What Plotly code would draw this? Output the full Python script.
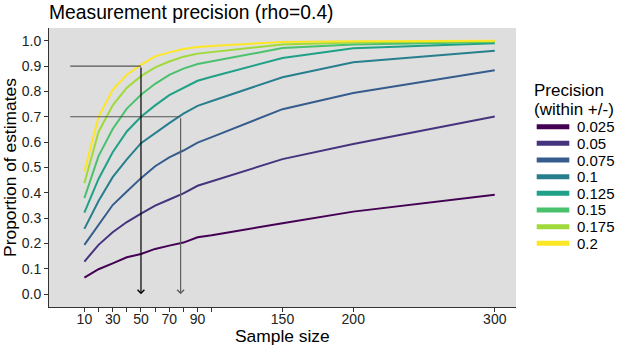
import plotly.graph_objects as go

# ---------------- data ----------------
sample_size = [10, 20, 30, 40, 50, 60, 70, 80, 90, 100, 150, 200, 300]
precision_labels = ["0.025", "0.05", "0.075", "0.1", "0.125", "0.15", "0.175", "0.2"]
colors = ["#440154", "#46337E", "#365C8D", "#277F8E", "#1FA187", "#4AC16D", "#9FDA3A", "#FDE725"]

p_0025 = [0.066, 0.099, 0.122, 0.146, 0.159, 0.179, 0.192, 0.204, 0.225, 0.233, 0.280, 0.326, 0.393]
p_0050 = [0.129, 0.195, 0.245, 0.285, 0.318, 0.350, 0.374, 0.398, 0.428, 0.445, 0.533, 0.593, 0.701]
p_0075 = [0.195, 0.276, 0.352, 0.405, 0.458, 0.505, 0.540, 0.567, 0.598, 0.620, 0.730, 0.794, 0.883]
p_0100 = [0.258, 0.368, 0.462, 0.532, 0.596, 0.637, 0.675, 0.712, 0.743, 0.762, 0.856, 0.915, 0.960]
p_0125 = [0.322, 0.455, 0.560, 0.642, 0.700, 0.745, 0.785, 0.815, 0.842, 0.858, 0.932, 0.970, 0.990]
p_0150 = [0.379, 0.545, 0.652, 0.732, 0.787, 0.830, 0.865, 0.890, 0.908, 0.918, 0.971, 0.985, 0.995]
p_0175 = [0.438, 0.640, 0.745, 0.815, 0.860, 0.895, 0.918, 0.937, 0.949, 0.955, 0.985, 0.993, 0.998]
p_0200 = [0.484, 0.700, 0.806, 0.866, 0.905, 0.938, 0.954, 0.967, 0.975, 0.979, 0.995, 0.998, 1.000]
series = [p_0025, p_0050, p_0075, p_0100, p_0125, p_0150, p_0175, p_0200]

x_tickvals = [10, 20, 30, 40, 50, 60, 70, 80, 90, 100, 150, 200, 300]
x_ticktext = ["10", "", "30", "", "50", "", "70", "", "90", "", "150", "200", "300"]
y_tickvals = [0.0, 0.1, 0.2, 0.3, 0.4, 0.5, 0.6, 0.7, 0.8, 0.9, 1.0]

target_prop = [0.9, 0.7]
required_n = [50, 78]
arrow_colors = ["#000000", "#5f5f5f"]

# ---------------- layout geometry ----------------
W, H = 625, 347
L, R, T, B = 49, 109, 28, 40
PW, PH = W - L - R, H - T - B
FONT = "Liberation Sans, Arial, Helvetica, sans-serif"


def px_x(px):
    return (px - L) / PW


def px_y(py):
    return (H - B - py) / PH


fig = go.Figure()
for lab, col, ys in zip(precision_labels, colors, series):
    fig.add_trace(go.Scatter(x=sample_size, y=ys, mode="lines", name=lab,
                             line=dict(color=col, width=2), showlegend=False))

shapes = []
annotations = []
# reference guides
for yv, xv, ac in zip(target_prop, required_n, arrow_colors):
    shapes.append(dict(type="line", xref="x", yref="y", x0=0, x1=xv, y0=yv, y1=yv,
                       line=dict(color="#555555", width=1.2)))
    annotations.append(dict(x=xv, y=0, ax=xv, ay=yv, xref="x", yref="y", axref="x", ayref="y",
                            text="", showarrow=True, arrowhead=4, arrowsize=1.1,
                            arrowwidth=1.2, arrowcolor=ac, standoff=0))

# x axis title
annotations.append(dict(x=0.5, y=px_y(335.5), xref="paper", yref="paper", text="Sample size",
                        showarrow=False, xanchor="center", yanchor="middle",
                        font=dict(family=FONT, size=17.4, color="#000")))

# manual legend
annotations.append(dict(x=px_x(532), y=px_y(90.2), xref="paper", yref="paper", text="Precision",
                        showarrow=False, xanchor="left", yanchor="middle",
                        font=dict(family=FONT, size=17, color="#000")))
annotations.append(dict(x=px_x(532), y=px_y(109.7), xref="paper", yref="paper", text="(within +/-)",
                        showarrow=False, xanchor="left", yanchor="middle",
                        font=dict(family=FONT, size=17, color="#000")))
for i, (lab, col) in enumerate(zip(precision_labels, colors)):
    yc = 126.7 + 16.66 * i
    shapes.append(dict(type="line", xref="paper", yref="paper", x0=px_x(536.7), x1=px_x(569.3),
                       y0=px_y(yc), y1=px_y(yc), line=dict(color=col, width=5)))
    annotations.append(dict(x=px_x(575), y=px_y(yc), xref="paper", yref="paper", text=lab,
                            showarrow=False, xanchor="left", yanchor="middle",
                            font=dict(family=FONT, size=15, color="#000")))

fig.update_layout(
    width=W, height=H,
    margin=dict(l=L, r=R, t=T, b=B, autoexpand=False),
    paper_bgcolor="white", plot_bgcolor="#DEDEDE",
    font=dict(family=FONT, color="#000"),
    title=dict(text="Measurement precision (rho=0.4)", x=L / W, xref="container", xanchor="left",
               y=1 - 12.5 / H, yref="container", yanchor="middle",
               font=dict(family=FONT, size=19.3, color="#000")),
    shapes=shapes, annotations=annotations, showlegend=False,
)
fig.update_xaxes(range=[-15, 315], tickvals=x_tickvals, ticktext=x_ticktext,
                 showgrid=False, zeroline=False, showline=True, linecolor="#333", linewidth=1,
                 ticks="outside", ticklen=4, tickcolor="#333", tickwidth=1, ticklabelstandoff=-5,
                 tickfont=dict(family=FONT, size=14, color="#222"))
fig.update_yaxes(range=[-0.05, 1.05], tickvals=y_tickvals, tickformat=".1f",
                 showgrid=False, zeroline=False, showline=True, linecolor="#333", linewidth=1,
                 ticks="outside", ticklen=4, tickcolor="#333", tickwidth=1,
                 tickfont=dict(family=FONT, size=14, color="#222"),
                 title=dict(text="Proportion of estimates", font=dict(family=FONT, size=17.4, color="#000"), standoff=2))

fig.write_html("out.html")
